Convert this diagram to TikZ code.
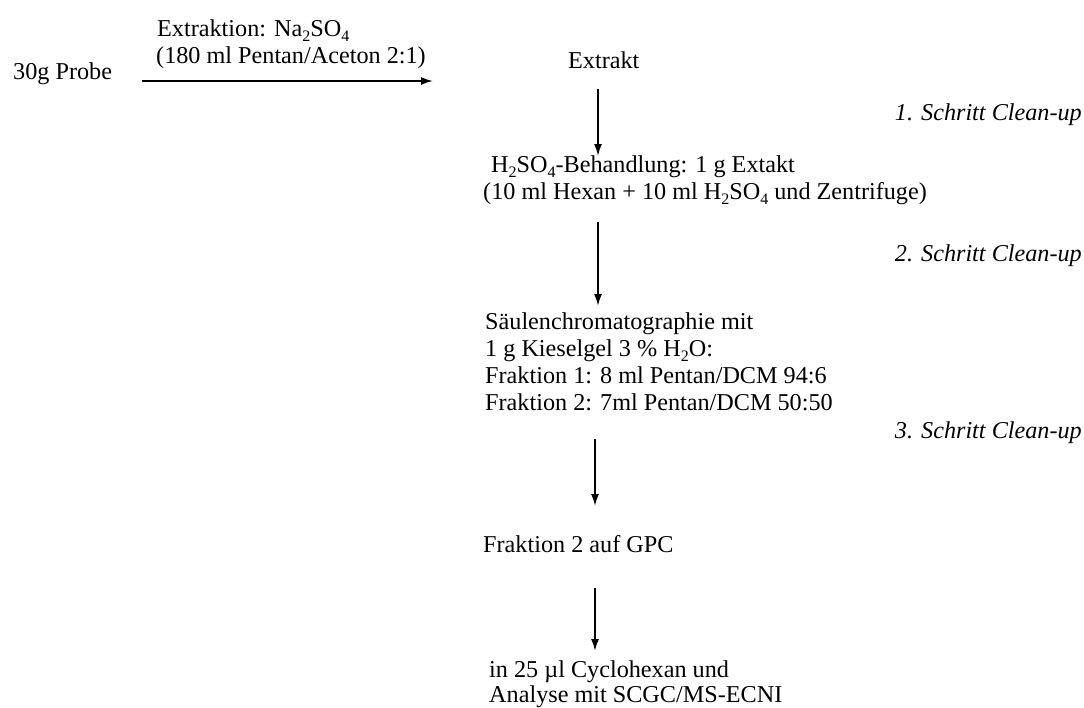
\documentclass[tikz,border=0pt]{standalone}
\usepackage{fontspec}
\setmainfont{Liberation Serif}
\usetikzlibrary{arrows.meta}
\newcommand\sbs[1]{\raisebox{-0.22em}{\fontsize{16pt}{16pt}\selectfont #1}}
\tikzset{
  txt/.style={anchor=base west, inner sep=0pt, font=\fontsize{24.2pt}{28pt}\selectfont},
  rtxt/.style={anchor=base east, inner sep=0pt, font=\fontsize{24.2pt}{28pt}\selectfont\itshape},
  arr/.style={line width=1.8pt, -{Latex[length=12pt,width=8pt]}}
}
\begin{document}
\begin{tikzpicture}[x=1pt,y=-1pt]
\useasboundingbox[fill=white] (0,0) rectangle (1084,707);
% left part
\node[txt] (probe) at (13,79) {30g Probe};
\node[txt] (ext1) at (157,36) {Extraktion: Na\sbs{2}SO\sbs{4}};
\node[txt] (ext2) at (156,63) {(180 ml Pentan/Aceton 2:1)};
\coordinate (h0) at (142,81);
\coordinate (h1) at (433,81);
\draw[arr] (h0) -- (h1);
% main column
\node[txt] (extrakt) at (568,68) {Extrakt};
\node[txt] (hA) at (491,172) {H\sbs{2}SO\sbs{4}-Behandlung: 1 g Extakt};
\node[txt] (hB) at (483,199) {(10 ml Hexan + 10 ml H\sbs{2}SO\sbs{4} und Zentrifuge)};
\node[txt] (s1) at (485,329) {Säulenchromatographie mit};
\node[txt] (s2) at (485,356) {1 g Kieselgel 3 \% H\sbs{2}O:};
\node[txt] (s3) at (485,383) {Fraktion 1: 8 ml Pentan/DCM 94:6};
\node[txt] (s4) at (485,410) {Fraktion 2: 7ml Pentan/DCM 50:50};
\node[txt] (gpc) at (483,552) {Fraktion 2 auf GPC};
\node[txt] (c1) at (489,677) {in 25 µl Cyclohexan und};
\node[txt] (c2) at (489,702) {Analyse mit SCGC/MS-ECNI};
% step labels
\node[rtxt] (st1) at (1082,120) {1. Schritt Clean-up};
\node[rtxt] (st2) at (1082,261) {2. Schritt Clean-up};
\node[rtxt] (st3) at (1082,438) {3. Schritt Clean-up};
% vertical arrows
\coordinate (a1s) at (598,89);  \coordinate (a1e) at (598,156);
\coordinate (a2s) at (598,222); \coordinate (a2e) at (598,306);
\coordinate (a3s) at (595,439); \coordinate (a3e) at (595,506);
\coordinate (a4s) at (595,588); \coordinate (a4e) at (595,651);
\draw[arr] (a1s) -- (a1e);
\draw[arr] (a2s) -- (a2e);
\draw[arr] (a3s) -- (a3e);
\draw[arr] (a4s) -- (a4e);
\end{tikzpicture}
\end{document}
